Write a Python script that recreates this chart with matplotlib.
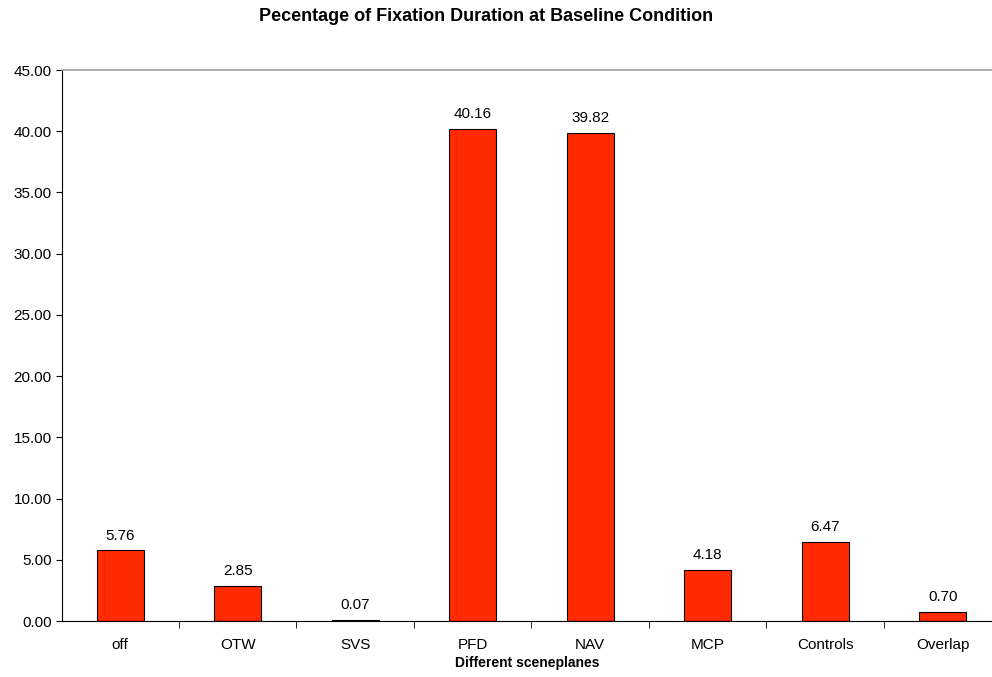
import matplotlib.pyplot as plt
import matplotlib as mb
import numpy as np

mb.rcParams["font.family"] = ["Liberation Sans", "DejaVu Sans"]
mb.rcParams["font.size"] = 11

categories = ["off", "OTW", "SVS", "PFD", "NAV", "MCP", "Controls", "Overlap"]
percentages = [5.76, 2.85, 0.07, 40.16, 39.82, 4.18, 6.47, 0.70]

fig = plt.figure(figsize=(9.92, 6.77), dpi=100)
ax = fig.add_axes([0.0625, 0.0827, 0.9375, 0.8139])

x = np.arange(len(categories))
bars = ax.bar(x, percentages, width=0.4, color="#ff2a00", edgecolor="black", linewidth=0.8)

for xi, v in zip(x, percentages):
    ax.text(xi, v + 0.65, "%.2f" % v, ha="center", va="bottom", fontsize=11)

ax.set_xlim(-0.496, 7.42)
ax.set_ylim(0, 45)
ax.set_yticks(np.arange(0, 46, 5))
ax.set_yticklabels(["%.2f" % t for t in np.arange(0, 46, 5)])

# category labels centred under bars, tick marks between categories
ax.set_xticks(x)
ax.set_xticklabels(categories)
ax.tick_params(axis="x", length=0, pad=12)
ax.set_xticks(np.arange(0.5, len(categories) - 0.5, 1), minor=True)
ax.tick_params(axis="x", which="minor", length=5, direction="out")
ax.tick_params(axis="y", length=4, direction="out")

ax.spines["right"].set_visible(False)
ax.spines["top"].set_color("#a0a0a0")
ax.spines["top"].set_linewidth(1.2)

ax.set_xlabel("Different sceneplanes", fontweight="bold", fontsize=10, labelpad=3)
fig.text(0.49, 0.975, "Pecentage of Fixation Duration at Baseline Condition",
         fontweight="bold", fontsize=13, ha="center", va="center")

fig.savefig("out.png", dpi=100)
